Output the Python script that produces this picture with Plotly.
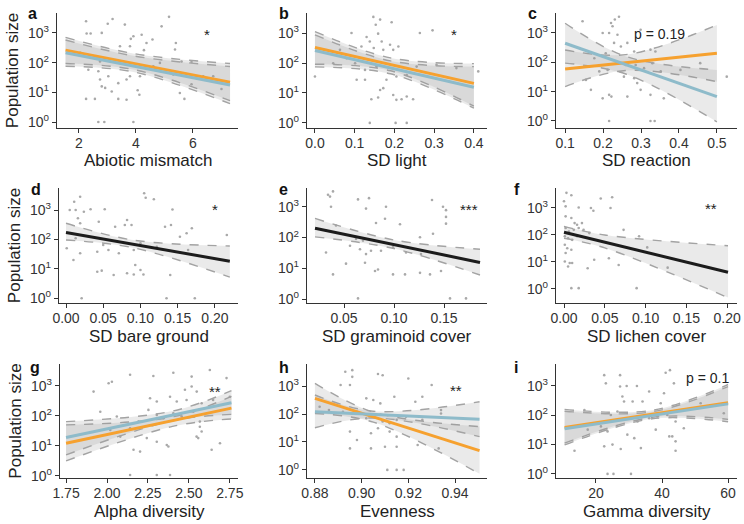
import plotly.graph_objects as go

W, H = 744, 524
ORANGE = "#F6A12F"
BLUE = "#8EBBCA"
BLACK = "#1C1C1C"
PT_COLOR = "#A9A9A9"
CI_LINE = "#A3A3A3"
CI_FILL = "rgba(150,150,150,0.2)"
FONT = "Liberation Sans, Arial, sans-serif"
TICK_FONT = "Liberation Sans Narrow, Arial Narrow, Liberation Sans, sans-serif"

# ---------------- data (population size given as log10) ----------------
# a: Abiotic mismatch
a_x = [2.25, 3.01, 3.18, 3.61, 2.27, 2.41, 2.80, 3.91, 3.82, 4.20, 4.37, 4.28, 4.58, 4.90, 5.16, 5.40, 5.37,
       3.79, 3.44, 5.60, 5.95, 2.04, 2.62, 2.74, 2.33, 2.68, 2.74, 3.03, 2.80, 2.92, 3.15, 3.38, 3.67, 3.79,
       4.06, 4.12, 4.14, 3.67, 3.38, 2.56, 2.25, 5.54, 5.70, 5.95, 6.36, 6.71, 7.00, 2.68, 2.89, 3.91, 5.31,
       4.61, 4.84]
a_y = [3.39, 3.31, 3.47, 3.28, 2.98, 2.98, 3.00, 2.89, 2.80, 2.94, 2.66, 2.42, 2.78, 3.22, 3.54, 2.66, 2.44,
       2.55, 2.55, 2.04, 2.02, 2.33, 2.16, 2.04, 1.76, 1.71, 1.43, 1.54, 1.20, 1.15, 1.03, 1.31, 1.43, 1.54,
       1.07, 0.92, 1.54, 0.75, 0.78, 0.78, 0.78, 0.98, 0.78, 1.27, 1.54, 1.54, 1.11, 0.00, 0.00, 0.00, 1.60,
       1.88, 1.99]
a_fit_x = [1.53, 7.30]
a_orange = [2.42, 1.34]
a_blue = [2.33, 1.25]
a_ci_x = [1.53, 3.95, 7.30]
a_orange_hi = [2.85, 2.30, 1.97]
a_orange_lo = [1.97, 1.76, 0.72]
a_blue_hi = [2.76, 2.22, 1.87]
a_blue_lo = [1.88, 1.68, 0.62]

# b: SD light
b_x = [0.147, 0.164, 0.193, 0.153, 0.092, 0.130, 0.138, 0.159, 0.168, 0.189, 0.210, 0.197, 0.264, 0.296,
       0.117, 0.148, 0.172, 0.080, 0.101, 0.126, 0.155, 0.180, 0.205, 0.231, 0.000, 0.105, 0.126, 0.164,
       0.172, 0.159, 0.142, 0.197, 0.205, 0.218, 0.247, 0.231, 0.138, 0.203, 0.231, 0.411, 0.256, 0.306,
       0.356, 0.063, 0.046]
b_y = [3.54, 3.45, 3.36, 3.28, 3.00, 2.87, 2.72, 2.98, 2.72, 2.61, 2.55, 2.44, 3.00, 3.09, 2.55, 2.50, 2.44,
       2.16, 1.99, 1.77, 1.88, 1.44, 1.55, 1.60, 1.55, 1.44, 1.44, 1.10, 1.16, 0.85, 0.79, 0.93, 0.77, 0.79,
       0.79, 0.88, 0.00, 0.00, 0.00, 1.72, 1.88, 1.94, 1.83, 2.44, 1.99]
b_fit_x = [0.0, 0.4]
b_orange = [2.52, 1.32]
b_blue = [2.42, 1.19]
b_ci_x = [0.0, 0.19, 0.4]
b_orange_hi = [3.05, 2.17, 1.98]
b_orange_lo = [1.96, 1.74, 0.56]
b_blue_hi = [2.94, 2.07, 1.88]
b_blue_lo = [1.87, 1.64, 0.49]

# c: SD reaction
c_x = [0.146, 0.221, 0.231, 0.242, 0.225, 0.199, 0.216, 0.238, 0.299, 0.229, 0.247, 0.264, 0.282, 0.325,
       0.338, 0.207, 0.177, 0.234, 0.260, 0.286, 0.308, 0.330, 0.352, 0.190, 0.212, 0.255, 0.282, 0.168,
       0.199, 0.216, 0.222, 0.264, 0.299, 0.325, 0.360, 0.404, 0.456, 0.526, 0.216, 0.325, 0.336, 0.155,
       0.290]
c_y = [3.40, 3.34, 3.46, 3.55, 3.23, 3.00, 3.00, 2.94, 3.11, 2.66, 2.54, 2.66, 2.37, 2.43, 2.37, 2.31, 2.14,
       2.03, 1.91, 1.91, 1.80, 1.97, 1.69, 1.69, 1.74, 1.51, 1.46, 1.06, 0.77, 0.89, 0.83, 0.83, 1.06, 0.89,
       0.77, 1.74, 1.97, 1.51, 0.00, 0.00, 0.00, 1.40, 1.29]
c_fit_x = [0.1, 0.5]
c_orange = [1.77, 2.31]
c_blue = [2.65, 0.83]
c_ci_x = [0.1, 0.26, 0.5]
c_orange_hi = [2.42, 2.26, 3.27]
c_orange_lo = [1.17, 1.72, 1.34]
c_blue_hi = [3.33, 2.20, 1.74]
c_blue_lo = [1.97, 1.60, -0.03]

# d: SD bare ground
d_x = [0.011, 0.019, 0.013, 0.005, 0.024, 0.033, 0.052, 0.105, 0.107, 0.118, 0.143, 0.016, 0.019, 0.044,
       0.066, 0.079, 0.082, 0.088, 0.133, 0.141, 0.153, 0.162, 0.169, 0.216, 0.001, 0.013, 0.010, 0.019,
       0.042, 0.050, 0.057, 0.071, 0.091, 0.100, 0.122, 0.164, 0.042, 0.048, 0.064, 0.082, 0.091, 0.093,
       0.100, 0.104, 0.140, 0.021, 0.135, 0.173]
d_y = [3.28, 3.45, 3.00, 3.00, 2.94, 3.03, 3.03, 3.57, 3.42, 3.37, 3.02, 2.72, 2.55, 2.60, 2.43, 2.49, 2.66,
       2.49, 2.43, 2.49, 2.09, 2.21, 2.38, 2.15, 1.70, 2.04, 1.30, 1.53, 1.58, 1.81, 1.64, 1.53, 1.64, 1.87,
       1.75, 1.64, 0.90, 0.94, 0.79, 0.85, 0.81, 1.13, 0.96, 0.81, 0.79, 0.00, 0.00, 0.00]
d_fit_x = [0.0, 0.22]
d_black = [2.24, 1.26]
d_ci_x = [0.0, 0.09, 0.22]
d_black_hi = [2.55, 1.98, 1.78]
d_black_lo = [1.98, 1.72, 0.72]

# e: SD graminoid cover
e_x = [0.034, 0.039, 0.036, 0.037, 0.064, 0.075, 0.072, 0.092, 0.138, 0.149, 0.152, 0.152, 0.152, 0.082,
       0.091, 0.106, 0.139, 0.126, 0.032, 0.042, 0.056, 0.062, 0.069, 0.056, 0.066, 0.072, 0.077, 0.087,
       0.099, 0.112, 0.127, 0.032, 0.052, 0.071, 0.081, 0.084, 0.039, 0.099, 0.111, 0.126, 0.136, 0.147,
       0.064, 0.156, 0.172]
e_y = [3.39, 3.50, 3.33, 3.00, 3.24, 3.28, 2.94, 3.00, 3.22, 3.00, 2.89, 2.67, 2.45, 2.47, 2.61, 2.43, 2.12,
       2.01, 2.23, 2.39, 2.06, 1.95, 1.90, 1.73, 1.62, 1.46, 1.57, 1.57, 1.68, 1.51, 1.46, 1.51, 1.15, 1.18,
       0.91, 0.96, 0.80, 0.80, 0.80, 0.85, 0.80, 0.91, 0.02, 0.02, 0.02]
e_fit_x = [0.021, 0.186]
e_black = [2.30, 1.19]
e_ci_x = [0.021, 0.10, 0.186]
e_black_hi = [2.62, 1.92, 1.62]
e_black_lo = [2.02, 1.64, 0.78]

# f: SD lichen cover
f_x = [0.003, 0.009, 0.000, 0.002, 0.018, 0.033, 0.036, 0.045, 0.059, 0.057, 0.002, 0.009, 0.013, 0.016,
       0.022, 0.002, 0.006, 0.012, 0.018, 0.024, 0.031, 0.001, 0.005, 0.010, 0.016, 0.001, 0.004, 0.002,
       0.009, 0.001, 0.007, 0.005, 0.010, 0.029, 0.037, 0.055, 0.067, 0.073, 0.092, 0.102, 0.127, 0.009,
       0.018, 0.089]
f_y = [3.56, 3.47, 3.25, 3.06, 3.02, 3.00, 2.90, 3.35, 3.40, 3.00, 2.69, 2.63, 2.44, 2.38, 2.44, 2.26, 2.13,
       2.19, 2.26, 2.19, 2.07, 1.95, 1.88, 1.82, 1.95, 1.64, 1.51, 1.33, 1.45, 1.02, 0.96, 0.83, 0.96, 0.77,
       1.08, 1.14, 0.89, 2.19, 1.95, 1.54, 0.79, 0.03, 0.03, 0.03]
f_fit_x = [0.0, 0.201]
f_black = [2.10, 0.62]
f_ci_x = [0.0, 0.05, 0.201]
f_black_hi = [2.32, 2.00, 1.60]
f_black_lo = [1.88, 1.52, -0.32]

# g: Alpha diversity
g_x = [1.918, 2.010, 2.030, 2.141, 2.283, 2.405, 2.517, 2.628, 2.730, 2.476, 2.517, 2.548, 2.263, 2.304,
       2.385, 2.426, 2.486, 2.578, 2.648, 2.750, 1.959, 2.060, 2.192, 2.253, 2.304, 2.344, 2.405, 2.456,
       2.527, 2.567, 2.567, 2.578, 2.020, 2.081, 2.141, 2.243, 2.304, 2.365, 2.375, 2.202, 2.162, 2.547,
       2.557, 2.639, 2.690, 2.141, 2.304, 2.385]
g_y = [2.81, 3.09, 3.14, 3.37, 3.33, 3.44, 3.31, 3.53, 3.26, 2.87, 2.98, 2.81, 2.59, 2.48, 2.64, 2.48, 2.53,
       2.42, 2.53, 2.64, 2.14, 1.98, 1.81, 2.20, 2.03, 1.92, 2.09, 1.98, 2.14, 1.81, 1.64, 1.48, 1.53, 1.31,
       1.59, 1.26, 1.14, 1.03, 0.98, 0.81, 0.87, 1.31, 1.26, 0.87, 1.09, 0.03, 0.03, 0.03]
g_fit_x = [1.75, 2.76]
g_orange = [1.09, 2.26]
g_blue = [1.28, 2.44]
g_ci_x = [1.75, 2.40, 2.76]
g_orange_hi = [1.70, 1.97, 2.65]
g_orange_lo = [0.50, 1.65, 1.90]
g_blue_hi = [1.81, 2.16, 2.84]
g_blue_lo = [0.70, 1.84, 2.05]

# h: Evenness
h_x = [0.893, 0.896, 0.896, 0.907, 0.909, 0.920, 0.930, 0.891, 0.895, 0.902, 0.905, 0.908, 0.914, 0.923,
       0.926, 0.882, 0.886, 0.892, 0.898, 0.902, 0.909, 0.912, 0.915, 0.919, 0.926, 0.934, 0.934, 0.895,
       0.904, 0.907, 0.912, 0.915, 0.898, 0.910, 0.895, 0.904, 0.915, 0.924, 0.933, 0.911, 0.915, 0.918]
h_y = [3.51, 3.57, 3.33, 3.43, 3.39, 3.27, 3.04, 3.04, 3.04, 2.56, 2.50, 2.38, 2.62, 2.44, 2.62, 2.26, 2.14,
       2.08, 2.08, 1.85, 1.73, 1.67, 1.79, 1.90, 1.79, 2.14, 2.02, 1.37, 1.31, 1.49, 1.37, 1.19, 1.07, 0.83,
       0.77, 0.77, 0.83, 0.89, 0.77, 0.00, 0.00, 0.00]
h_fit_x = [0.88, 0.9505]
h_orange = [2.56, 0.69]
h_blue = [2.08, 1.81]
h_ci_x = [0.88, 0.905, 0.9505]
h_orange_hi = [3.10, 2.07, 1.55]
h_orange_lo = [2.02, 1.71, -0.14]
h_blue_hi = [2.68, 2.10, 2.44]
h_blue_lo = [1.51, 1.86, 1.19]

# i: Gamma diversity
i_x = [22.5, 27.3, 23.0, 27.3, 29.3, 32.4, 41.1, 42.4, 43.6, 28.0, 28.5, 31.1, 34.1, 36.1, 39.6, 40.6, 51.7,
       16.5, 24.5, 26.5, 30.1, 32.6, 36.1, 38.6, 41.6, 44.1, 46.6, 17.5, 21.5, 23.5, 29.5, 31.6, 38.1, 42.2,
       43.1, 44.1, 22.5, 25.0, 27.5, 33.6, 44.1, 13.5, 23.5, 25.3, 30.6, 58.7]
i_y = [3.37, 3.37, 3.09, 2.98, 3.00, 3.00, 3.45, 3.54, 3.09, 2.64, 2.47, 2.47, 2.47, 2.81, 2.41, 2.75, 2.41,
       2.18, 2.01, 2.13, 1.90, 1.79, 1.90, 1.96, 2.01, 1.79, 1.56, 1.51, 1.62, 1.45, 1.34, 1.22, 1.51, 1.28,
       1.28, 1.11, 0.94, 1.00, 0.85, 0.88, 0.79, 0.79, 0.00, 0.00, 0.00, 2.07]
i_fit_x = [10.5, 60.0]
i_orange = [1.58, 2.43]
i_blue = [1.54, 2.39]
i_ci_x = [10.5, 37.0, 60.0]
i_orange_hi = [2.20, 2.17, 3.05]
i_orange_lo = [1.05, 1.93, 1.86]
i_blue_hi = [2.14, 2.12, 2.98]
i_blue_lo = [0.99, 1.88, 1.78]

# axis texts
x_titles = ["Abiotic mismatch", "SD light", "SD reaction", "SD bare ground", "SD graminoid cover",
            "SD lichen cover", "Alpha diversity", "Evenness", "Gamma diversity"]
x_tickvals = [[2, 4, 6], [0.0, 0.1, 0.2, 0.3, 0.4], [0.1, 0.2, 0.3, 0.4, 0.5],
              [0.0, 0.05, 0.10, 0.15, 0.20], [0.05, 0.10, 0.15], [0.0, 0.05, 0.10, 0.15, 0.20],
              [1.75, 2.00, 2.25, 2.50, 2.75], [0.88, 0.90, 0.92, 0.94], [20, 40, 60]]
x_ticktext = [["2", "4", "6"], ["0.0", "0.1", "0.2", "0.3", "0.4"], ["0.1", "0.2", "0.3", "0.4", "0.5"],
              ["0.00", "0.05", "0.10", "0.15", "0.20"], ["0.05", "0.10", "0.15"],
              ["0.00", "0.05", "0.10", "0.15", "0.20"], ["1.75", "2.00", "2.25", "2.50", "2.75"],
              ["0.88", "0.90", "0.92", "0.94"], ["20", "40", "60"]]
y_tickvals = [1, 10, 100, 1000]
y_ticktext = ["10<sup>0</sup>", "10<sup>1</sup>", "10<sup>2</sup>", "10<sup>3</sup>"]
y_title = "Population size"
panel_letters = ["a", "b", "c", "d", "e", "f", "g", "h", "i"]
signif_labels = ["*", "*", "p = 0.19", "*", "***", "**", "**", "**", "p = 0.1"]

# ---------------- layout geometry (pixels) ----------------
boxes = [(57, 238, 13, 128), (307, 487, 13, 128), (556, 737, 13, 128),
         (59, 238, 188, 303), (307, 487, 188, 303), (556, 737, 188, 303),
         (60, 238, 364, 478), (307, 487, 364, 478), (556, 737, 364, 478)]
x_ranges = [[1.23, 7.58], [-0.02, 0.433], [0.076, 0.553], [-0.0094, 0.231], [0.013, 0.193],
            [-0.0098, 0.212], [1.713, 2.80], [0.8766, 0.9537], [7.9, 62.7]]
y_ranges = [[-0.2, 3.67], [-0.17, 3.67], [-0.24, 3.68], [-0.16, 3.75], [-0.13, 3.61],
            [-0.52, 3.74], [-0.07, 3.73], [-0.29, 3.79], [-0.14, 3.75]]
letter_pos = [(26, 14), (277, 14), (526, 14), (29, 189), (277, 189), (512, 189),
              (28, 367), (277, 367), (512, 367)]
signif_pos = [(207, 34), (454, 34), (659, 34), (215, 209), (469, 210), (711, 208),
              (215, 391), (456, 390), (707, 378)]
xtitle_y = [161, 161, 161, 336, 336, 336, 511, 511, 511]


def pw(v):
    return [10 ** t for t in v]


panels = [
    (a_x, a_y, [(ORANGE, a_fit_x, a_orange, a_ci_x, a_orange_hi, a_orange_lo),
                (BLUE, a_fit_x, a_blue, a_ci_x, a_blue_hi, a_blue_lo)]),
    (b_x, b_y, [(ORANGE, b_fit_x, b_orange, b_ci_x, b_orange_hi, b_orange_lo),
                (BLUE, b_fit_x, b_blue, b_ci_x, b_blue_hi, b_blue_lo)]),
    (c_x, c_y, [(ORANGE, c_fit_x, c_orange, c_ci_x, c_orange_hi, c_orange_lo),
                (BLUE, c_fit_x, c_blue, c_ci_x, c_blue_hi, c_blue_lo)]),
    (d_x, d_y, [(BLACK, d_fit_x, d_black, d_ci_x, d_black_hi, d_black_lo)]),
    (e_x, e_y, [(BLACK, e_fit_x, e_black, e_ci_x, e_black_hi, e_black_lo)]),
    (f_x, f_y, [(BLACK, f_fit_x, f_black, f_ci_x, f_black_hi, f_black_lo)]),
    (g_x, g_y, [(ORANGE, g_fit_x, g_orange, g_ci_x, g_orange_hi, g_orange_lo),
                (BLUE, g_fit_x, g_blue, g_ci_x, g_blue_hi, g_blue_lo)]),
    (h_x, h_y, [(ORANGE, h_fit_x, h_orange, h_ci_x, h_orange_hi, h_orange_lo),
                (BLUE, h_fit_x, h_blue, h_ci_x, h_blue_hi, h_blue_lo)]),
    (i_x, i_y, [(ORANGE, i_fit_x, i_orange, i_ci_x, i_orange_hi, i_orange_lo),
                (BLUE, i_fit_x, i_blue, i_ci_x, i_blue_hi, i_blue_lo)]),
]

fig = go.Figure()
layout = dict(width=W, height=H, margin=dict(l=0, r=0, t=0, b=0), showlegend=False,
              plot_bgcolor="white", paper_bgcolor="white", font=dict(family=FONT, color="#222"))
annotations = []

for k, (px, py, fits) in enumerate(panels):
    n = "" if k == 0 else str(k + 1)
    xr, yr = "x" + n, "y" + n
    x0, x1, y0, y1 = boxes[k]
    # points
    fig.add_trace(go.Scatter(x=px, y=pw(py), mode="markers", xaxis=xr, yaxis=yr,
                             marker=dict(size=2.6, color=PT_COLOR), hoverinfo="skip"))
    # ribbons
    for col, fx, fy, cx, chi, clo in fits:
        fig.add_trace(go.Scatter(x=cx, y=pw(clo), mode="lines", xaxis=xr, yaxis=yr,
                                 line=dict(color=CI_LINE, width=1.4, dash="dash", shape="spline"),
                                 hoverinfo="skip"))
        fig.add_trace(go.Scatter(x=cx, y=pw(chi), mode="lines", xaxis=xr, yaxis=yr, fill="tonexty",
                                 fillcolor=CI_FILL,
                                 line=dict(color=CI_LINE, width=1.4, dash="dash", shape="spline"),
                                 hoverinfo="skip"))
    # fitted lines
    for col, fx, fy, cx, chi, clo in fits:
        fig.add_trace(go.Scatter(x=fx, y=pw(fy), mode="lines", xaxis=xr, yaxis=yr,
                                 line=dict(color=col, width=3), hoverinfo="skip"))

    axis_common = dict(showline=True, linecolor="#333", linewidth=1.4, ticks="outside", ticklen=4,
                       tickwidth=1.2, tickcolor="#333", showgrid=False, zeroline=False,
                       tickfont=dict(size=14, color="#333", family=TICK_FONT), automargin=False)
    layout["xaxis" + n] = dict(axis_common, domain=[x0 / W, x1 / W], range=x_ranges[k], anchor=yr,
                               tickvals=x_tickvals[k], ticktext=x_ticktext[k], ticklabelstandoff=-2)
    ydict = dict(axis_common, domain=[1 - y1 / H, 1 - y0 / H], type="log", range=y_ranges[k], anchor=xr,
                 tickvals=y_tickvals, ticktext=y_ticktext)
    if k % 3 == 0:
        ydict["title"] = dict(text=y_title, font=dict(size=17, color="#222", family=FONT), standoff=5)
    layout["yaxis" + n] = ydict

    # x-axis title
    annotations.append(dict(text=x_titles[k], x=(x0 + x1) / 2 / W, y=1 - xtitle_y[k] / H, xref="paper",
                            yref="paper", xanchor="center", yanchor="middle", showarrow=False,
                            font=dict(size=17, color="#222", family=FONT)))
    lx, ly = letter_pos[k]
    annotations.append(dict(text="<b>%s</b>" % panel_letters[k], x=lx / W, y=1 - ly / H, xref="paper",
                            yref="paper", xanchor="left", yanchor="middle", showarrow=False,
                            font=dict(size=16, color="#111", family=FONT)))
    sx, sy = signif_pos[k]
    annotations.append(dict(text=signif_labels[k], x=sx / W, y=1 - sy / H, xref="paper", yref="paper",
                            xanchor="center", yanchor="middle", showarrow=False,
                            font=dict(size=15 if "p" not in signif_labels[k] else 14, color="#222",
                                      family=FONT)))

layout["annotations"] = annotations
fig.update_layout(**layout)
fig.write_html("out.html")
